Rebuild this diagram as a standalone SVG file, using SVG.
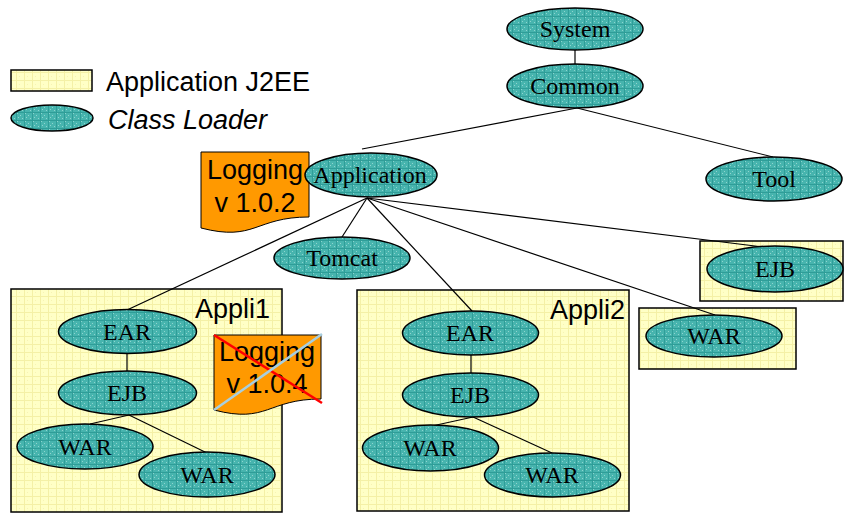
<svg xmlns="http://www.w3.org/2000/svg" width="845" height="513" viewBox="0 0 845 513">
<defs>
<pattern id="teal" width="8" height="8" patternUnits="userSpaceOnUse">
<rect width="8" height="8" fill="#47b4ae"/>
<rect x="1" y="1" width="1" height="1" fill="#8ed5cf"/>
<rect x="4" y="3" width="1" height="1" fill="#8ed5cf"/>
<rect x="2" y="5" width="1" height="1" fill="#8ed5cf"/>
<rect x="6" y="6" width="1" height="1" fill="#8ed5cf"/>
<rect x="0" y="0" width="8" height="1" fill="#2f9d98"/>
<rect x="0" y="0" width="1" height="8" fill="#2f9d98"/>
</pattern>
<pattern id="yellow" width="8" height="8" patternUnits="userSpaceOnUse">
<rect width="8" height="8" fill="#ffffc6"/>
<rect x="0" y="0" width="8" height="1" fill="#f4f0a6"/>
<rect x="0" y="0" width="1" height="8" fill="#f4f0a6"/>
<rect x="3" y="4" width="1" height="1" fill="#f7f3b4"/>
</pattern>
</defs>
<style>
.cl{fill:url(#teal);stroke:#000;stroke-width:1.5}
.box{fill:url(#yellow);stroke:#000;stroke-width:1.5}
.lbl{font-family:"Liberation Serif","Times New Roman",serif;font-size:24px;fill:#000;text-anchor:middle}
.sans{font-family:"Liberation Sans",Arial,sans-serif;font-size:27px;fill:#000}
.doc{fill:#ff9900;stroke:#000;stroke-width:1}
.conn line{stroke:#000;stroke-width:1.2}
</style>
<rect width="845" height="513" fill="#fff"/>

<g id="legend">
<rect class="box" x="11" y="70" width="81" height="21"/>
<text class="sans" x="106" y="91">Application J2EE</text>
<ellipse class="cl" cx="52" cy="118" rx="41" ry="13"/>
<text class="sans" x="108" y="129" font-style="italic">Class Loader</text>
</g>

<g id="appli1">
<rect class="box" x="11" y="289" width="271" height="223"/>
<text class="sans" x="195" y="318">Appli1</text>
</g>
<g id="appli2">
<rect class="box" x="357" y="290" width="272" height="221"/>
<text class="sans" x="550" y="319">Appli2</text>
</g>
<g id="box-ejb">
<rect class="box" x="700" y="241" width="143" height="60"/>
</g>
<g id="box-war">
<rect class="box" x="639" y="308" width="157" height="61"/>
</g>

<g id="connectors" class="conn">
<line x1="575" y1="50" x2="575" y2="64"/>
<line x1="577" y1="108" x2="362" y2="149"/>
<line x1="577" y1="108" x2="773" y2="157"/>
<line x1="367" y1="198" x2="342" y2="237"/>
<line x1="367" y1="198" x2="127" y2="310"/>
<line x1="367" y1="198" x2="472" y2="311"/>
<line x1="367" y1="198" x2="715" y2="315"/>
<line x1="367" y1="198" x2="763" y2="247"/>
<line x1="127" y1="353" x2="127" y2="371"/>
<line x1="129" y1="415" x2="90" y2="424"/>
<line x1="129" y1="415" x2="207" y2="453"/>
<line x1="471" y1="355" x2="471" y2="373"/>
<line x1="473" y1="417" x2="432" y2="426"/>
<line x1="473" y1="417" x2="552" y2="453"/>
</g>

<g id="logging102">
<path class="doc" d="M201,152 H309 V217 C255,217 255,242 201,228 Z"/>
<text class="sans" x="255" y="179" text-anchor="middle">Logging</text>
<text class="sans" x="255" y="212" text-anchor="middle">v 1.0.2</text>
</g>

<g id="system"><ellipse class="cl" cx="575" cy="29" rx="68" ry="21"/><text class="lbl" x="575" y="37">System</text></g>
<g id="common"><ellipse class="cl" cx="575" cy="86" rx="68" ry="22"/><text class="lbl" x="575" y="94">Common</text></g>
<g id="application"><ellipse class="cl" cx="371" cy="175" rx="66" ry="22"/><text class="lbl" x="370" y="183">Application</text></g>
<g id="tool"><ellipse class="cl" cx="774" cy="179" rx="68" ry="22"/><text class="lbl" x="774" y="187">Tool</text></g>
<g id="tomcat"><ellipse class="cl" cx="342" cy="258" rx="68" ry="21"/><text class="lbl" x="342" y="266">Tomcat</text></g>
<g id="ejb-shared"><ellipse class="cl" cx="775" cy="269" rx="68" ry="23"/><text class="lbl" x="775" y="277">EJB</text></g>
<g id="war-shared"><ellipse class="cl" cx="714" cy="336" rx="68" ry="21"/><text class="lbl" x="714" y="344">WAR</text></g>

<g id="a1-ear"><ellipse class="cl" cx="127.5" cy="331.5" rx="69" ry="22"/><text class="lbl" x="127" y="340">EAR</text></g>
<g id="a1-ejb"><ellipse class="cl" cx="127.5" cy="393" rx="69" ry="22"/><text class="lbl" x="127" y="401">EJB</text></g>
<g id="a1-war1"><ellipse class="cl" cx="85" cy="446.5" rx="68" ry="22.5"/><text class="lbl" x="85" y="455">WAR</text></g>
<g id="a1-war2"><ellipse class="cl" cx="207" cy="474.5" rx="68" ry="22.5"/><text class="lbl" x="207" y="483">WAR</text></g>

<g id="a2-ear"><ellipse class="cl" cx="470.5" cy="333" rx="68" ry="22"/><text class="lbl" x="470" y="341">EAR</text></g>
<g id="a2-ejb"><ellipse class="cl" cx="470.5" cy="395" rx="68" ry="22"/><text class="lbl" x="470" y="403">EJB</text></g>
<g id="a2-war1"><ellipse class="cl" cx="430.5" cy="448" rx="68" ry="23"/><text class="lbl" x="430" y="456">WAR</text></g>
<g id="a2-war2"><ellipse class="cl" cx="552.5" cy="475" rx="68" ry="22"/><text class="lbl" x="552" y="483">WAR</text></g>

<g id="logging104">
<path class="doc" d="M214,335 H321 V399 C267.5,399 267.5,424 214,410 Z"/>
<text class="sans" x="267" y="361" text-anchor="middle">Logging</text>
<text class="sans" x="267" y="393" text-anchor="middle">v 1.0.4</text>
<line x1="214" y1="335" x2="322" y2="403" stroke="#ff0000" stroke-width="2.5"/>
<line x1="214" y1="410" x2="322" y2="334" stroke="#a8cfe0" stroke-width="2.5"/>
</g>
</svg>
